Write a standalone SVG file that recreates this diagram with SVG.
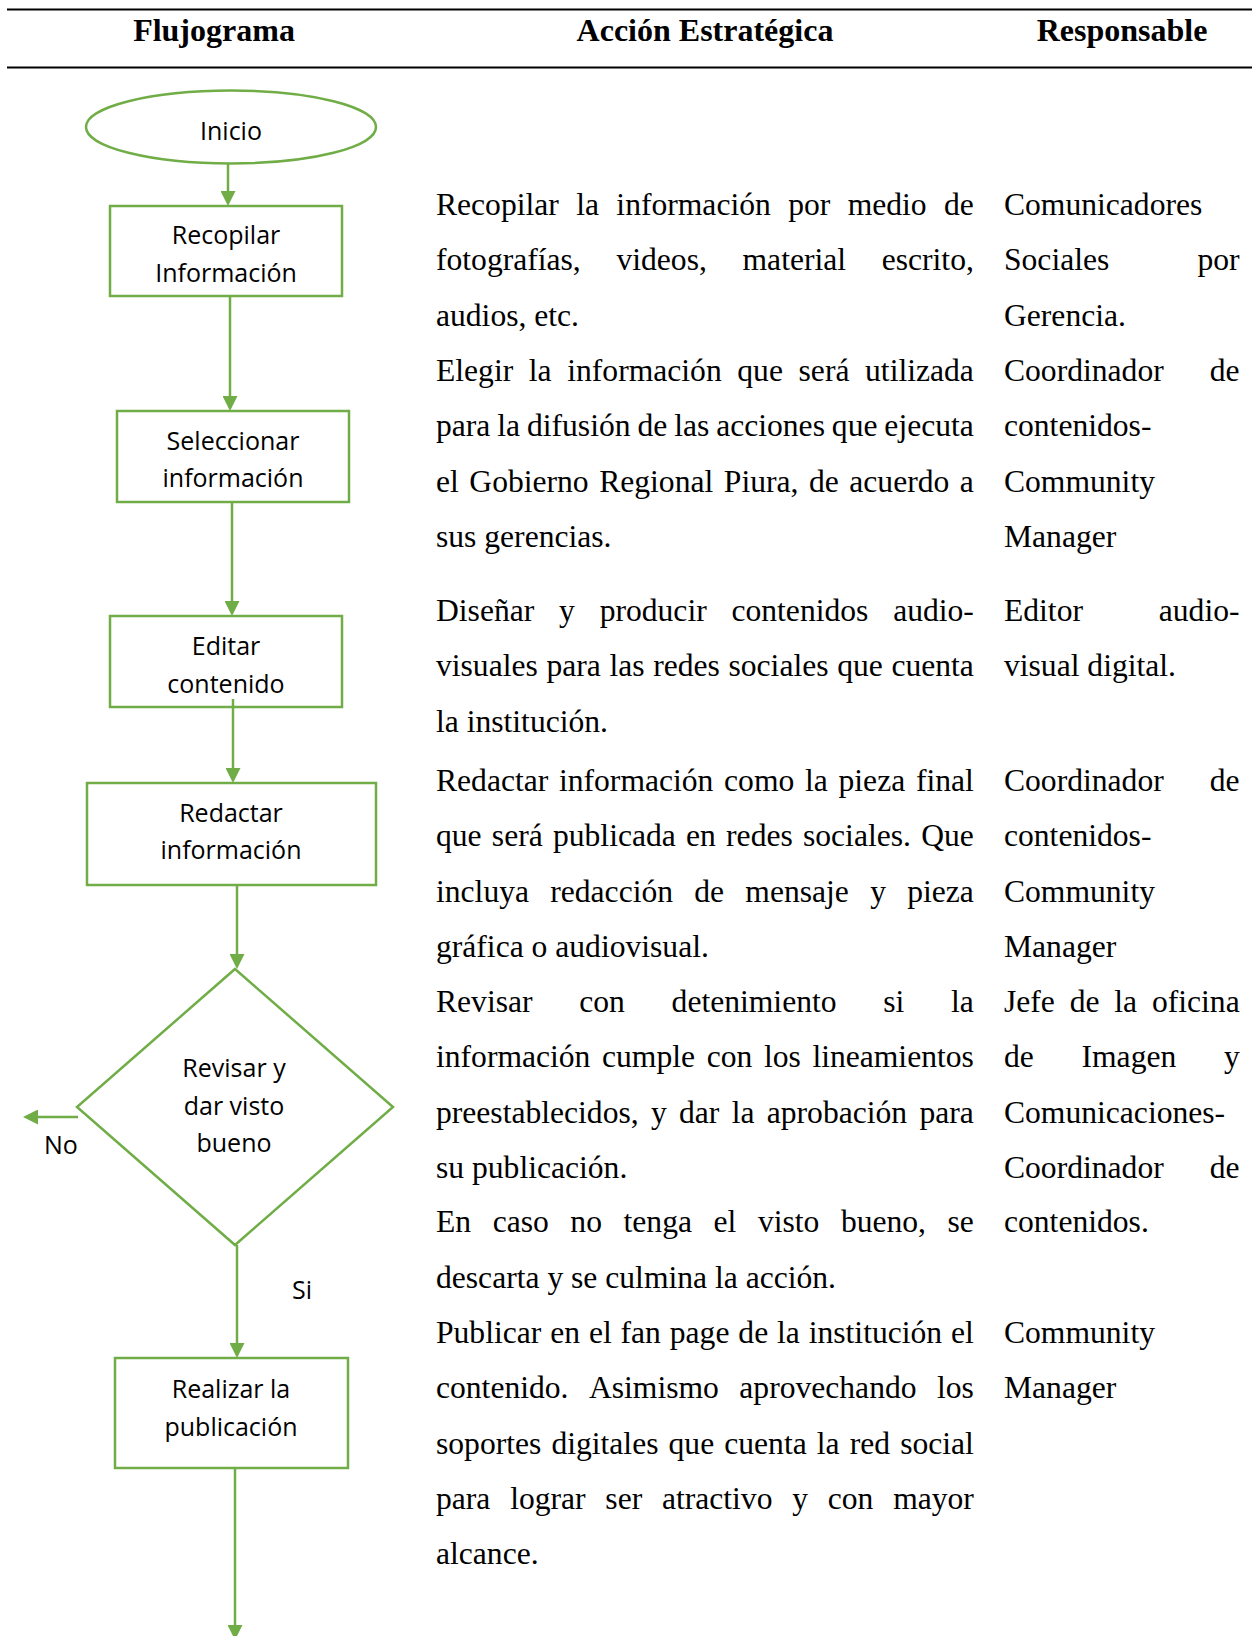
<svg xmlns="http://www.w3.org/2000/svg" width="1252" height="1636" viewBox="0 0 1252 1636">
<style>
.rule{stroke:#000;stroke-width:2}
.hd{font-family:"Liberation Serif","Times New Roman",serif;font-weight:bold;font-size:32px;fill:#000;text-anchor:middle}
.bt{font-family:"Liberation Serif","Times New Roman",serif;font-size:31.6px;fill:#000;font-kerning:none}
.end{text-anchor:end}
.shape{fill:#fff;stroke:#70AD47;stroke-width:2.5}
.lbl{font-family:"Open Sans","Noto Sans",sans-serif;font-size:25px;fill:#000;text-anchor:middle}
.lbl2{font-family:"Open Sans","Noto Sans",sans-serif;font-size:25px;fill:#000}
.con{fill:none;stroke:#70AD47;stroke-width:2.5}
</style>
<defs>
<marker id="arr" markerUnits="userSpaceOnUse" markerWidth="15" markerHeight="15" refX="0" refY="7.5" orient="auto">
<path d="M0,0 L15,7.5 L0,15 z" fill="#70AD47"/>
</marker>
</defs>
<rect width="1252" height="1636" fill="#fff"/>

<g id="header">
<line class="rule" x1="7" y1="9.5" x2="1252" y2="9.5"/>
<line class="rule" x1="7" y1="67.5" x2="1252" y2="67.5"/>
<text class="hd" x="214" y="41">Flujograma</text>
<text class="hd" x="705" y="41">Acción Estratégica</text>
<text class="hd" x="1122" y="41">Responsable</text>
</g>

<g id="connectors">
<line class="con" x1="228" y1="163" x2="228" y2="191" marker-end="url(#arr)"/>
<line class="con" x1="230" y1="296" x2="230" y2="396" marker-end="url(#arr)"/>
<line class="con" x1="232" y1="502" x2="232" y2="601" marker-end="url(#arr)"/>
<line class="con" x1="233" y1="699" x2="233" y2="768" marker-end="url(#arr)"/>
<line class="con" x1="237" y1="885" x2="237" y2="954" marker-end="url(#arr)"/>
<line class="con" x1="237" y1="1245" x2="237" y2="1343" marker-end="url(#arr)"/>
<line class="con" x1="235" y1="1466" x2="235" y2="1625" marker-end="url(#arr)"/>
<line class="con" x1="78" y1="1117" x2="38" y2="1117" marker-end="url(#arr)"/>
<text class="lbl2" x="44" y="1154">No</text>
<text class="lbl2" x="292" y="1299">Si</text>
</g>

<g id="inicio">
<ellipse class="shape" cx="231" cy="127" rx="145" ry="36.5"/>
<text class="lbl" x="231" y="140">Inicio</text>
</g>
<g id="recopilar">
<rect class="shape" x="110" y="206" width="232" height="90"/>
<text class="lbl" x="226" y="244">Recopilar</text>
<text class="lbl" x="226" y="282">Información</text>
</g>
<g id="seleccionar">
<rect class="shape" x="117" y="411" width="232" height="91"/>
<text class="lbl" x="233" y="450">Seleccionar</text>
<text class="lbl" x="233" y="487">información</text>
</g>
<g id="editar">
<rect class="shape" x="110" y="616" width="232" height="91"/>
<text class="lbl" x="226" y="655">Editar</text>
<text class="lbl" x="226" y="693">contenido</text>
</g>
<line class="con" x1="233" y1="699" x2="233" y2="708"/>
<g id="redactar">
<rect class="shape" x="87" y="783" width="289" height="102"/>
<text class="lbl" x="231" y="822">Redactar</text>
<text class="lbl" x="231" y="859">información</text>
</g>
<g id="revisar">
<polygon class="shape" points="235,969 393,1107 235,1245 77,1107"/>
<text class="lbl" x="234" y="1077">Revisar y</text>
<text class="lbl" x="234" y="1115">dar visto</text>
<text class="lbl" x="234" y="1152">bueno</text>
</g>
<g id="realizar">
<rect class="shape" x="115" y="1358" width="233" height="110"/>
<text class="lbl" x="231" y="1398">Realizar la</text>
<text class="lbl" x="231" y="1436">publicación</text>
</g>

<g id="accion">
<text class="bt" x="436" y="215" word-spacing="9.48">Recopilar la información por medio de</text>
<text class="bt" x="436" y="270.3" word-spacing="27.8">fotografías, videos, material escrito,</text>
<text class="bt" x="436" y="325.6">audios, etc.</text>
<text class="bt" x="436" y="381" word-spacing="7.74">Elegir la información que será utilizada</text>
<text class="bt" x="436" y="436.2" word-spacing="-0.99">para la difusión de las acciones que ejecuta</text>
<text class="bt" x="436" y="491.5" word-spacing="2.64">el Gobierno Regional Piura, de acuerdo a</text>
<text class="bt" x="436" y="546.8">sus gerencias.</text>
<text class="bt" x="436" y="620.9" word-spacing="16.9">Diseñar y producir contenidos audio-</text>
<text class="bt" x="436" y="676.2" word-spacing="0.75">visuales para las redes sociales que cuenta</text>
<text class="bt" x="436" y="731.5">la institución.</text>
<text class="bt" x="436" y="791" word-spacing="2.82">Redactar información como la pieza final</text>
<text class="bt" x="436" y="846.3" word-spacing="2.35">que será publicada en redes sociales. Que</text>
<text class="bt" x="436" y="901.6" word-spacing="13.36">incluya redacción de mensaje y pieza</text>
<text class="bt" x="436" y="956.8">gráfica o audiovisual.</text>
<text class="bt" x="436" y="1012" word-spacing="38.83">Revisar con detenimiento si la</text>
<text class="bt" x="436" y="1067.4" word-spacing="3.73">información cumple con los lineamientos</text>
<text class="bt" x="436" y="1122.7" word-spacing="4.4">preestablecidos, y dar la aprobación para</text>
<text class="bt" x="436" y="1178">su publicación.</text>
<text class="bt" x="436" y="1232.3" word-spacing="13.67">En caso no tenga el visto bueno, se</text>
<text class="bt" x="436" y="1287.6">descarta y se culmina la acción.</text>
<text class="bt" x="436" y="1342.9" word-spacing="0.99">Publicar en el fan page de la institución el</text>
<text class="bt" x="436" y="1398.2" word-spacing="12.57">contenido. Asimismo aprovechando los</text>
<text class="bt" x="436" y="1453.5" word-spacing="2.2">soportes digitales que cuenta la red social</text>
<text class="bt" x="436" y="1508.8" word-spacing="11.87">para lograr ser atractivo y con mayor</text>
<text class="bt" x="436" y="1564">alcance.</text>
</g>

<g id="responsable">
<text class="bt" x="1004" y="215">Comunicadores</text>
<text class="bt" x="1004" y="270.3">Sociales</text>
<text class="bt end" x="1239.5" y="270.3">por</text>
<text class="bt" x="1004" y="325.6">Gerencia.</text>
<text class="bt" x="1004" y="381">Coordinador</text>
<text class="bt end" x="1239.5" y="381">de</text>
<text class="bt" x="1004" y="436.2">contenidos-</text>
<text class="bt" x="1004" y="491.5">Community</text>
<text class="bt" x="1004" y="546.8">Manager</text>
<text class="bt" x="1004" y="620.9">Editor</text>
<text class="bt end" x="1239.5" y="620.9">audio-</text>
<text class="bt" x="1004" y="676.2">visual digital.</text>
<text class="bt" x="1004" y="791">Coordinador</text>
<text class="bt end" x="1239.5" y="791">de</text>
<text class="bt" x="1004" y="846.3">contenidos-</text>
<text class="bt" x="1004" y="901.6">Community</text>
<text class="bt" x="1004" y="956.8">Manager</text>
<text class="bt" x="1004" y="1012" word-spacing="6.93">Jefe de la oficina</text>
<text class="bt" x="1004" y="1067.4" word-spacing="39.8">de Imagen y</text>
<text class="bt" x="1004" y="1122.7">Comunicaciones-</text>
<text class="bt" x="1004" y="1178">Coordinador</text>
<text class="bt end" x="1239.5" y="1178">de</text>
<text class="bt" x="1004" y="1232.3">contenidos.</text>
<text class="bt" x="1004" y="1342.9">Community</text>
<text class="bt" x="1004" y="1398.2">Manager</text>
</g>
</svg>
